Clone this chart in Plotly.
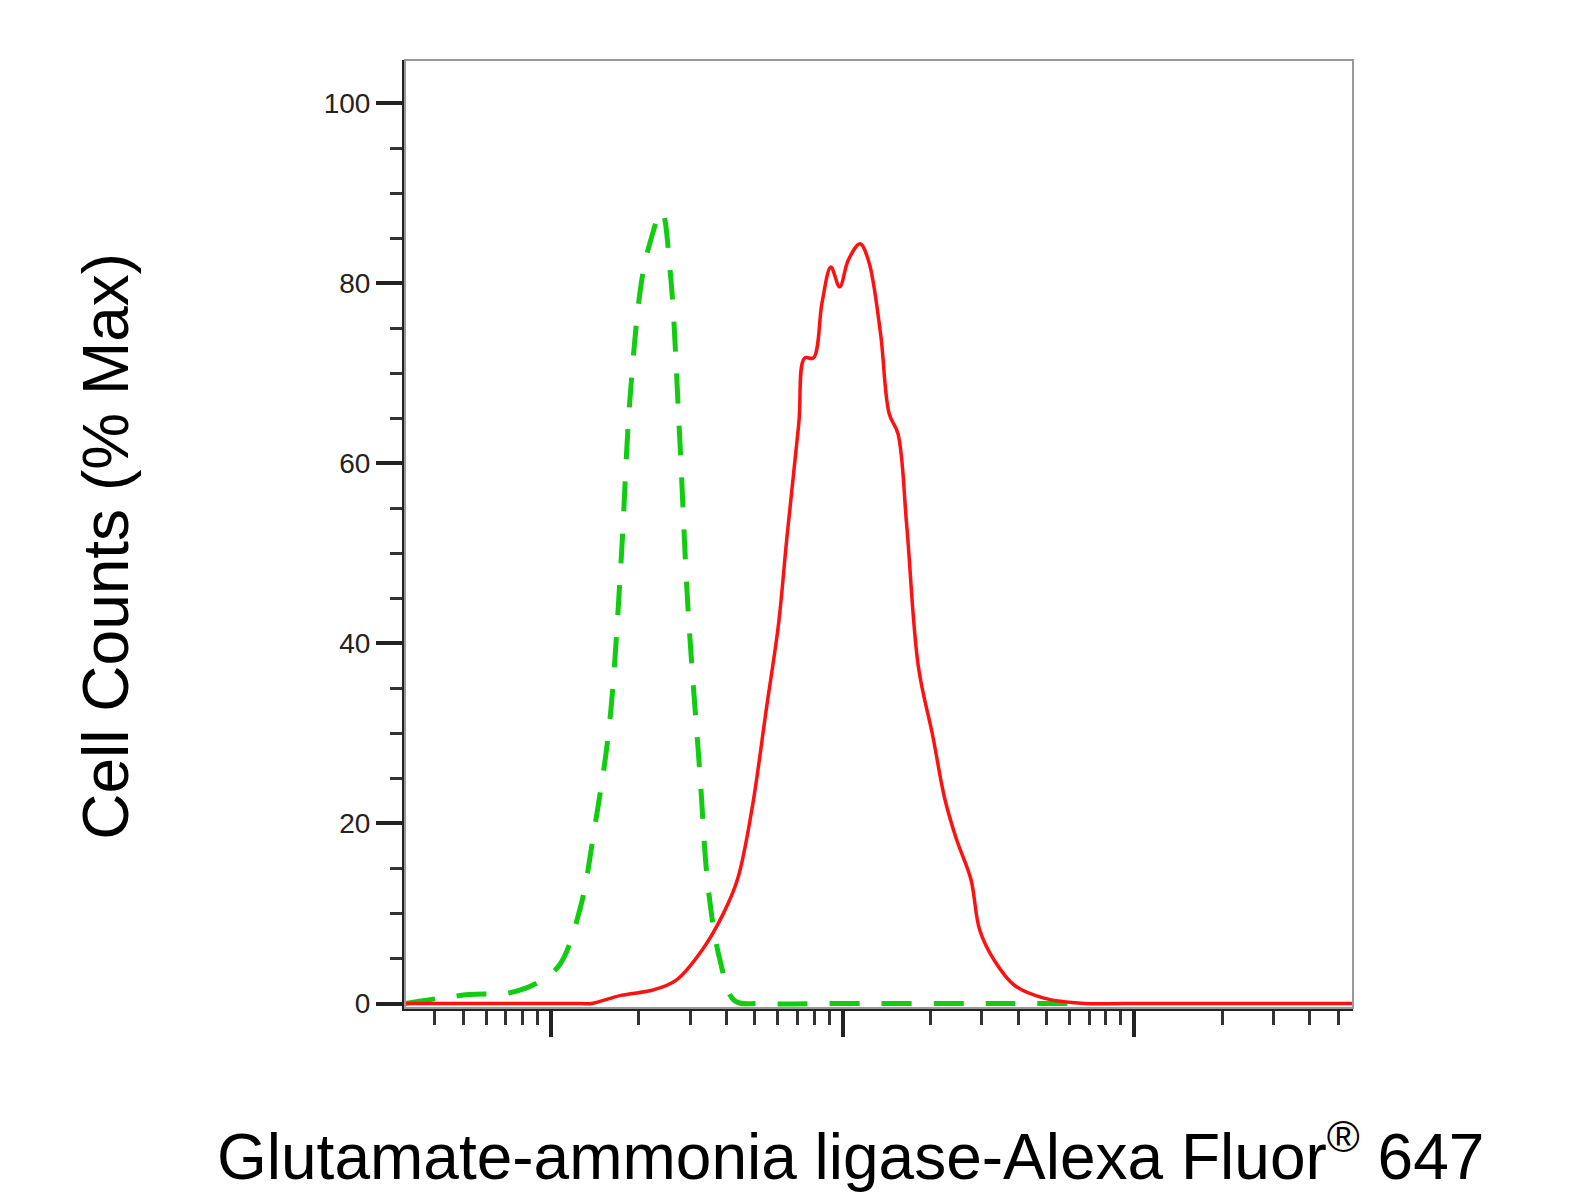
import numpy as np
import plotly.graph_objects as go

# curves: x in decades (log10 of intensity), y in % max
green_x = [1.5, 1.72, 1.86, 1.96, 2.03, 2.10, 2.15, 2.20, 2.24, 2.27, 2.31, 2.34, 2.38,
           2.41, 2.44, 2.47, 2.51, 2.54, 2.58, 2.63, 2.72, 3.0, 3.5, 3.8]
green_y = [0, 1.0, 1.2, 2.4, 4.3, 10.5, 19.5, 30.7, 48.7, 66.6, 80, 84.5, 88,
           81, 64, 44, 26, 12.7, 4.8, 0.3, 0, 0, 0, 0]

red_x = [1.5, 2.1, 2.14, 2.24, 2.35, 2.43, 2.52, 2.59, 2.64, 2.69, 2.74, 2.78, 2.81,
         2.85, 2.87, 2.90, 2.93, 2.96, 2.99, 3.02, 3.06, 3.09, 3.13, 3.16, 3.19, 3.22,
         3.26, 3.31, 3.35, 3.39, 3.44, 3.47, 3.52, 3.59, 3.69, 3.83, 3.97, 4.75]
red_y = [0, 0, 0, 0.9, 1.5, 2.6, 6, 9.9, 13.8, 21.7, 33, 42, 52,
         64.4, 71.7, 71.7, 77.9, 81.8, 79.6, 82.6, 84.4, 82.4, 74.5, 65.5, 63.3, 53.1,
         37.4, 29.6, 22.8, 18.3, 13.8, 8.2, 4.8, 2, 0.6, 0, 0, 0]

x_major = [100, 1000, 10000]
y_major = [0, 20, 40, 60, 80, 100]

fig = go.Figure()
fig.add_trace(go.Scatter(x=10 ** np.array(green_x), y=green_y, mode="lines",
                         line=dict(color="#11cc11", width=5, dash="30px,22px", shape="spline"),
                         showlegend=False))
fig.add_trace(go.Scatter(x=10 ** np.array(red_x), y=red_y, mode="lines",
                         line=dict(color="#ff1111", width=3.5, shape="spline"),
                         showlegend=False))

minor_x = [m * 10 ** d for d in range(1, 5) for m in range(2, 10)]
fig.update_xaxes(type="log", range=[1.5, 4.75], tickvals=x_major, ticktext=["", "", ""],
                 ticks="outside", ticklen=26, tickwidth=4, tickcolor="#222",
                 minor=dict(tickvals=minor_x, ticks="outside", ticklen=14, tickwidth=3, tickcolor="#333"),
                 showline=True, linecolor="#222", linewidth=3, showgrid=False, zeroline=False)
fig.update_yaxes(range=[-0.5, 104.8], tickvals=y_major, ticks="outside", ticklen=26, tickwidth=4,
                 tickcolor="#222", tickfont=dict(family="Liberation Sans", size=28, color="#222"),
                 minor=dict(dtick=5, ticks="outside", ticklen=12, tickwidth=3, tickcolor="#333"),
                 showline=True, linecolor="#222", linewidth=3, showgrid=False, zeroline=False)

fig.update_layout(
    width=1589, height=1204, plot_bgcolor="white", paper_bgcolor="white",
    margin=dict(l=397, r=244, t=52, b=204),
    shapes=[dict(type="rect", xref="paper", yref="paper", x0=0, y0=0, x1=1, y1=1,
                 line=dict(color="#999", width=2))],
    annotations=[
        dict(text="Cell Counts (% Max)", xref="paper", yref="paper", x=-0.315, y=0.487,
             xanchor="center", yanchor="middle", textangle=-90, showarrow=False,
             font=dict(family="Liberation Sans", size=64, color="black")),
        dict(text="Glutamate-ammonia ligase-Alexa Fluor<sup>®</sup> 647", xref="paper", yref="paper",
             x=0.47, y=-0.152, xanchor="center", yanchor="middle", showarrow=False,
             font=dict(family="Liberation Sans", size=64, color="black")),
    ],
)
fig.write_html("out.html")
